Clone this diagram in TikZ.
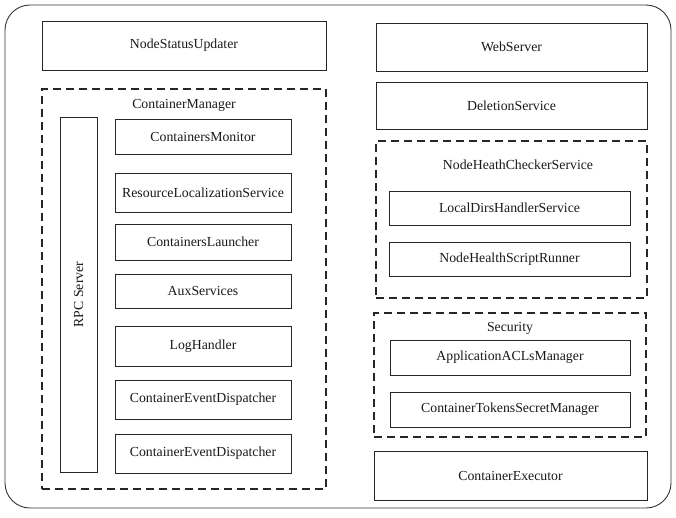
\documentclass[tikz,border=0pt]{standalone}
\usepackage{fontspec}
\setmainfont{Liberation Serif}
\begin{document}
\begin{tikzpicture}[x=1pt,y=-1pt,
  lbl/.style={font=\fontsize{13.8}{16}\selectfont, text=black!90},
  box/.style={draw=black!85, line width=0.8pt, inner sep=0pt, lbl},
  group/.style={draw=black!85, line width=1.1pt, dash pattern=on 8pt off 5pt, inner sep=0pt},
  outerbox/.style={draw=black!80, line width=0.9pt, rounded corners=25pt, inner sep=0pt}]
\useasboundingbox (0,0) rectangle (676,517);
\node[outerbox, minimum width=666pt, minimum height=503pt] (outer) at (338,256.5) {};
% left column
\node[box, minimum width=284pt, minimum height=49pt] (nsu) at (184,45.5) {NodeStatusUpdater};
\node[group, minimum width=284pt, minimum height=400pt] (cmgr) at (184,289) {};
\node[lbl] (cmgrt) at (184,105) {ContainerManager};
\node[box, rotate=90, minimum width=355pt, minimum height=37pt] (rpc) at (78.5,294.5) {RPC Server};
\node[box, minimum width=176pt, minimum height=35pt] (cmon) at (203,136.5) {ContainersMonitor};
\node[box, minimum width=176pt, minimum height=39pt] (rls) at (203,192.5) {ResourceLocalizationService};
\node[box, minimum width=176pt, minimum height=36pt] (cl) at (203,242) {ContainersLauncher};
\node[box, minimum width=176pt, minimum height=34pt] (aux) at (203,291) {AuxServices};
\node[box, minimum width=176pt, minimum height=40pt] (lh) at (203,346) {LogHandler};
\node[box, minimum width=176pt, minimum height=39pt] (ced1) at (203,399.5) {ContainerEventDispatcher};
\node[box, minimum width=176pt, minimum height=39pt] (ced2) at (203,453.5) {ContainerEventDispatcher};
% right column
\node[box, minimum width=271pt, minimum height=48pt] (web) at (511.5,47) {WebServer};
\node[box, minimum width=271pt, minimum height=47pt] (del) at (511.5,105.5) {DeletionService};
\node[group, minimum width=271pt, minimum height=157pt] (nhcs) at (511.5,219.5) {};
\node[lbl] (nhcst) at (518,165) {NodeHeathCheckerService};
\node[box, minimum width=241pt, minimum height=34pt] (ldhs) at (509.5,208) {LocalDirsHandlerService};
\node[box, minimum width=241pt, minimum height=34pt] (nhsr) at (509.5,259) {NodeHealthScriptRunner};
\node[group, minimum width=272pt, minimum height=124pt] (sec) at (510,375) {};
\node[lbl] (sect) at (510,328) {Security};
\node[box, minimum width=240pt, minimum height=35pt] (acl) at (510,357.5) {ApplicationACLsManager};
\node[box, minimum width=240pt, minimum height=35pt] (ctsm) at (510,409.5) {ContainerTokensSecretManager};
\node[box, minimum width=273pt, minimum height=49pt] (cex) at (510.5,475.5) {ContainerExecutor};
\end{tikzpicture}
\end{document}
